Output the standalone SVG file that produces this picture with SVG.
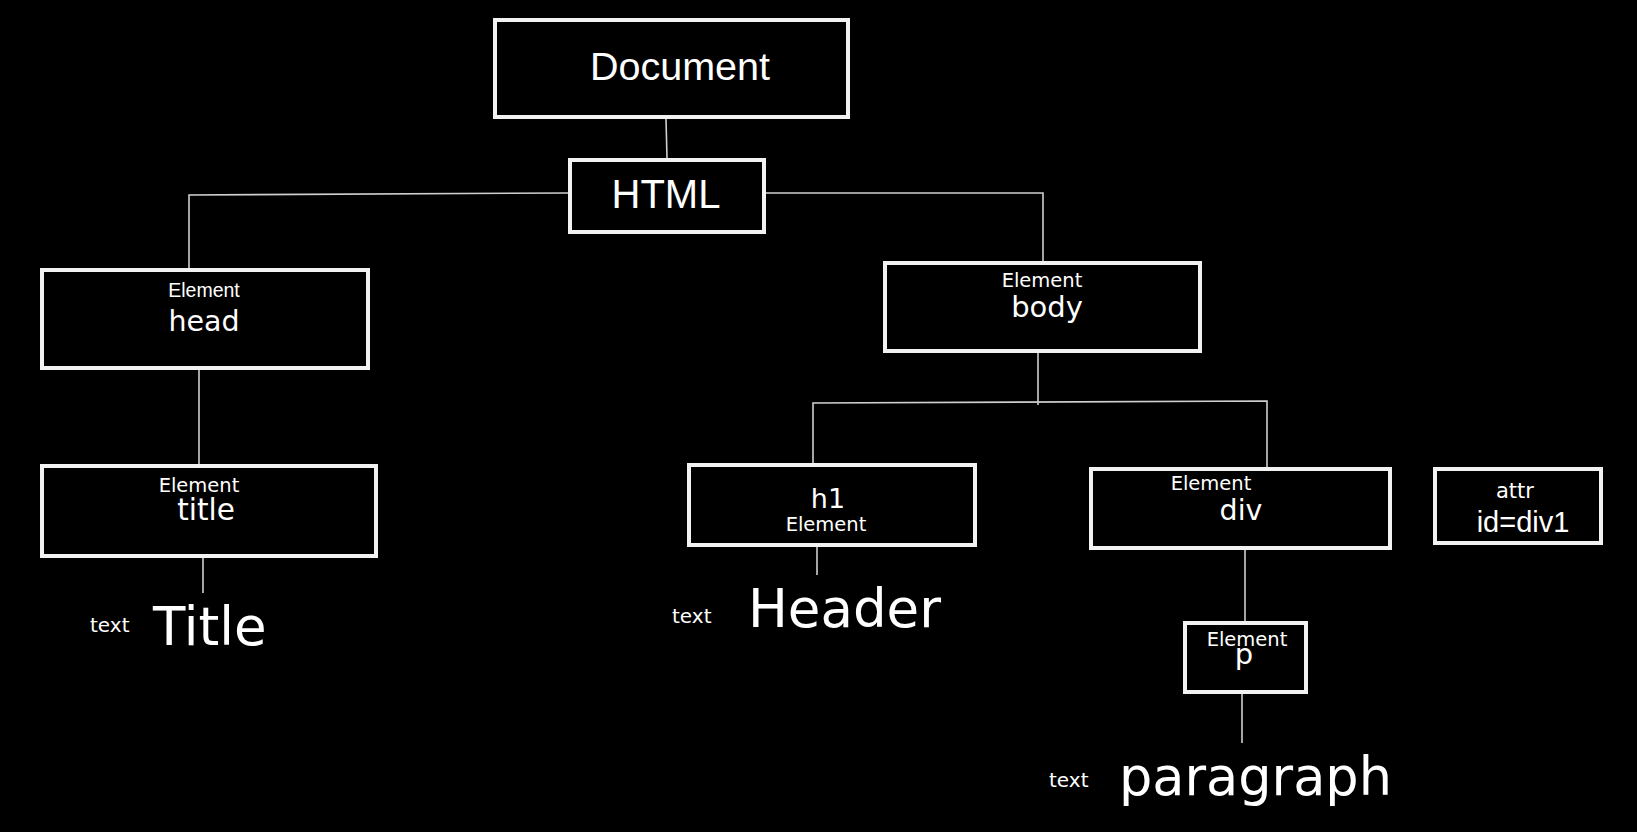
<svg xmlns="http://www.w3.org/2000/svg" width="1637" height="832" viewBox="0 0 1637 832">
<style>
.box{fill:#000;stroke:#f2f2f2;stroke-width:4}
.ln{fill:none;stroke:#cfcfcf;stroke-width:1.6}
.t{fill:#fff;text-anchor:middle}
.a{font-family:"Liberation Sans",Arial,sans-serif}
.d{font-family:"DejaVu Sans",Verdana,sans-serif}
</style>
<rect width="1637" height="832" fill="#000"/>
<g id="connectors">
<polyline class="ln" points="666,119 667,158"/>
<polyline class="ln" points="568,193 189,195 189,268"/>
<polyline class="ln" points="766,193 1043,193 1043,261"/>
<polyline class="ln" points="199,370 199,464"/>
<polyline class="ln" points="203,558 203,593"/>
<polyline class="ln" points="1038,353 1038,405"/>
<polyline class="ln" points="813,464 813,403 1267,401 1267,467"/>
<polyline class="ln" points="817,547 817,575"/>
<polyline class="ln" points="1245,550 1245,621"/>
<polyline class="ln" points="1242,694 1242,743"/>
</g>
<g id="document">
<rect class="box" x="495" y="20" width="353" height="97"/>
<text class="t a" x="680" y="80" font-size="39.5">Document</text>
</g>
<g id="html">
<rect class="box" x="570" y="160" width="194" height="72"/>
<text class="t a" x="666" y="208" font-size="40">HTML</text>
</g>
<g id="head">
<rect class="box" x="42" y="270" width="326" height="98"/>
<text class="t a" x="204" y="297" font-size="19.5">Element</text>
<text class="t d" x="204" y="331" font-size="28.5">head</text>
</g>
<g id="title">
<rect class="box" x="42" y="466" width="334" height="90"/>
<text class="t d" x="199" y="492" font-size="19.5">Element</text>
<text class="t d" x="206" y="520" font-size="29.5">title</text>
</g>
<g id="title-text">
<text class="d" x="90" y="632" font-size="20" fill="#fff">text</text>
<text class="d" x="153" y="645" font-size="53" fill="#fff">Title</text>
</g>
<g id="body">
<rect class="box" x="885" y="263" width="315" height="88"/>
<text class="t d" x="1042" y="287" font-size="19.5">Element</text>
<text class="t d" x="1047" y="317" font-size="29">body</text>
</g>
<g id="h1">
<rect class="box" x="689" y="465" width="286" height="80"/>
<text class="t d" x="828" y="508" font-size="27">h1</text>
<text class="t d" x="826" y="531" font-size="19.5">Element</text>
</g>
<g id="header-text">
<text class="d" x="672" y="623" font-size="20" fill="#fff">text</text>
<text class="d" x="748" y="627" font-size="53" fill="#fff">Header</text>
</g>
<g id="div">
<rect class="box" x="1091" y="469" width="299" height="79"/>
<text class="t d" x="1211" y="490" font-size="19.5">Element</text>
<text class="t d" x="1241" y="520" font-size="28.5">div</text>
</g>
<g id="attr">
<rect class="box" x="1435" y="469" width="166" height="74"/>
<text class="t d" x="1515" y="498" font-size="21">attr</text>
<text class="t a" x="1523" y="532" font-size="29">id=div1</text>
</g>
<g id="p">
<rect class="box" x="1185" y="623" width="121" height="69"/>
<text class="t d" x="1247" y="646" font-size="19.5">Element</text>
<text class="t d" x="1244" y="664" font-size="29">p</text>
</g>
<g id="paragraph-text">
<text class="d" x="1049" y="787" font-size="20" fill="#fff">text</text>
<text class="d" x="1119" y="795" font-size="52.5" fill="#fff">paragraph</text>
</g>
</svg>
